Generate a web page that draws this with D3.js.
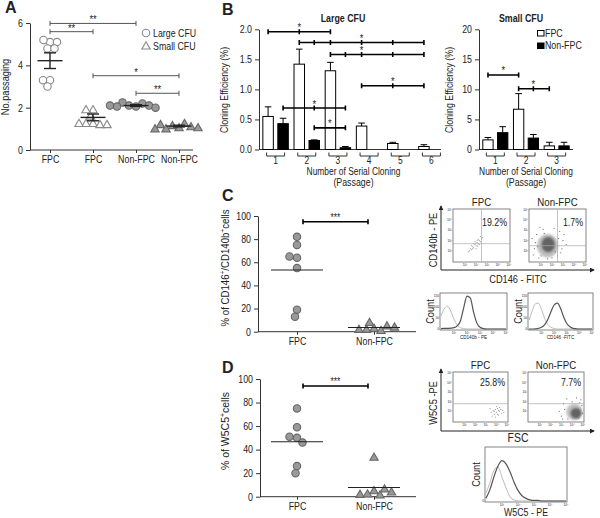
<!DOCTYPE html>
<html><head><meta charset="utf-8">
<script src="https://cdn.jsdelivr.net/npm/d3@7"></script>
<style>
body{margin:0;background:#fff}
svg{display:block}
text{font-family:"Liberation Sans",Arial,sans-serif;fill:#222}
.bold{font-weight:bold}
.axis path,.axis line{stroke:#333}
</style>
</head><body>
<svg id="c" width="600" height="518"></svg>
<script>
// ---------------- DATA ----------------
// Panel A
const aCategories = ["FPC","FPC","Non-FPC","Non-FPC"];
const aShapes = ["circle","triangle","circle","triangle"];
const aFilled = [false,false,true,true];
const aValues = [
  [5.1,5.2,5.1,4.8,4.8,3.3,3.0,3.3],
  [1.9,1.9,1.6,1.25,1.25,1.2,1.25,1.2],
  [2.05,2.1,2.2,2.25,2.1,2.05,2.0,2.1],
  [1.05,1.15,1.25,1.1,1.0,1.05,1.2,1.0]
];
const aMeans = [4.22,1.54,2.1,1.13];
const aSem = [0.37,0.16,0.04,0.04];
const aTicks = [0,2,4,6];
const aSig = [
  {from:0,to:2,y:5.98,label:"**"},
  {from:0,to:1,y:5.59,label:"**"},
  {from:1,to:3,y:3.51,label:"*"},
  {from:2,to:3,y:2.68,label:"**"}
];
const aLegend = ["Large CFU","Small CFU"];

// Panel B
const seriesNames = ["FPC","Non-FPC"];
const passagesLarge = [1,2,3,4,5,6];
const largeFPC    = [0.55,1.42,1.31,0.39,0.10,0.05];
const largeFPCerr = [0.16,0.25,0.14,0.05,0.02,0.03];
const largeNon    = [0.43,0.15,0.03,null,null,null];
const largeNonErr = [0.09,0.01,0.02,null,null,null];
const largeTicks = [0,0.5,1,1.5,2];
const largeSig = [
  {pts:[[1,"FPC"],[2,"FPC"],[3,"FPC"]], y:1.96, star:[2,"FPC"]},
  {pts:[[2,"FPC"],[2,"Non-FPC"],[3,"FPC"],[4,"FPC"],[5,"FPC"],[6,"FPC"]], y:1.78, star:[4,"FPC"]},
  {pts:[[3,"FPC"],[3,"Non-FPC"],[4,"FPC"],[5,"FPC"],[6,"FPC"]], y:1.58, star:[4,"FPC"]},
  {pts:[[4,"FPC"],[5,"FPC"],[6,"FPC"]], y:1.06, star:[5,"FPC"]},
  {pts:[[1,"Non-FPC"],[2,"Non-FPC"],[3,"Non-FPC"]], y:0.69, star:[2,"Non-FPC"]},
  {pts:[[2,"Non-FPC"],[3,"Non-FPC"]], y:0.36, star:null}
];
const passagesSmall = [1,2,3];
const smallFPC    = [1.6,6.7,0.6];
const smallFPCerr = [0.4,2.6,0.6];
const smallNon    = [2.8,1.9,0.6];
const smallNonErr = [1.0,0.6,0.6];
const smallTicks = [0,5,10,15,20];
const smallSig = [
  {pts:[[1,"FPC"],[2,"FPC"]], y:12.4, star:null},
  {pts:[[2,"FPC"],[2,"Non-FPC"],[3,"FPC"]], y:10.1, star:[2,"Non-FPC"]}
];

// Panel C / D dot plots
const groupsCD = ["FPC","Non-FPC"];
const cFPC = [82,75,64,65,55,19,13];
const cNon = [3,2,8,1,5,2,4];
const dFPC = [75,59,50,51,46,26,20];
const dNon = [5,2.3,33.5,1.5,6.5,2,4];
const cdTicks = [0,20,40,60,80,100];

// Flow cytometry
const flowTitles = ["FPC","Non-FPC"];
const flowCPct = ["19.2%","1.7%"];
const flowCGateX = [2.5,2.5];
const flowCGateY = [1.7,1.5];
const flowDPct = ["25.8%","7.7%"];
const flowDGateY = [1.8,1.8];
const flowCFpcPts = [[1.4,1.0],[1.5,1.2],[1.6,1.1],[1.7,1.4],[1.8,1.3],[1.9,1.6],[2.0,1.5],[2.1,1.8],[2.2,1.7],[2.3,2.0],[2.4,1.9],[2.5,2.2],[2.2,2.1],[1.9,1.9],[2.0,1.2],[1.6,1.5],[2.3,1.6],[2.6,2.3],[1.3,0.9],[2.1,2.0],[1.8,1.7],[2.4,2.4],[1.7,1.2],[2.0,1.75],[2.15,1.45]];
const flowCNonPts = [[0.3,0.6],[0.5,1.8],[0.6,2.6],[0.8,0.3],[2.9,1.2],[3.0,2.0],[2.7,2.9],[1.2,3.1],[0.4,1.2],[2.5,0.5],[3.3,1.6],[0.9,3.3],[2.2,3.2],[1.6,0.2],[3.1,2.6],[0.2,2.2],[2.0,0.3],[2.8,0.8],[1.0,0.5],[0.7,1.4],[2.6,2.2],[1.3,2.7],[2.3,0.9]];
const flowCNonDense = [{cx:1.6,cy:1.5,rx:0.95,ry:1.15},{cx:1.65,cy:1.6,rx:0.6,ry:0.75}];
const flowDFpcPts = [[3.5,0.9],[3.7,1.1],[3.8,0.7],[3.9,1.2],[4.0,0.9],[4.1,1.3],[4.2,0.6],[4.3,1.0],[4.4,1.2],[4.5,0.8],[3.6,0.5],[4.6,1.1],[4.0,1.5],[3.9,0.4],[4.3,1.4],[4.7,0.9],[3.4,1.3],[4.1,0.7],[4.2,1.1],[3.8,1.0]];
const flowDNonPts = [[3.0,0.5],[3.2,1.8],[3.5,2.3],[4.8,2.2],[4.9,1.6],[3.6,0.2],[4.0,2.0],[4.6,0.3],[3.3,1.2],[4.95,0.8],[2.8,1.0],[4.4,2.4],[3.1,0.2],[4.7,1.9]];
const flowDNonDense = [{cx:4.2,cy:0.95,rx:0.75,ry:0.85},{cx:4.35,cy:0.8,rx:0.5,ry:0.55}];
const decadeLabels = ["10\u2070","10\u00b9","10\u00b2","10\u00b3","10\u2074","10\u2075"];

// Histograms
const histBins = [0,0.25,0.5,0.75,1,1.25,1.5,1.75,2,2.25,2.5,2.75,3,3.25,3.5,3.75,4,4.25,4.5,4.75,5];
const cHist1Ctrl  = [60,92,105,82,45,18,6,2,0,0,0,0,0,0,0,0,0,0,0,0,0];
const cHist1Stain = [2,3,3,4,6,14,38,98,150,142,78,28,8,2,0,0,0,0,0,0,0];
const cHist2Ctrl  = [40,82,115,118,88,48,20,8,2,0,0,0,0,0,0,0,0,0,0,0,0];
const cHist2Stain = [0,0,1,3,8,20,45,80,110,118,95,55,25,10,3,1,0,0,0,0,0];
const dHistCtrl   = [15,35,58,64,45,25,8,2,0,0,0,0,0,0,0,0,0,0,0,0,0];
const dHistStain  = [5,22,46,66,76,70,55,36,20,10,5,2,1,1,0,0,0,0,0,0,0];
const cHistTicks = [0,50,100,150];
const dHistTicks = [0];

// ---------------- DRAW ----------------
const svg = d3.select("#c");
const defs = svg.append("defs");
defs.append("filter").attr("id","blur").append("feGaussianBlur").attr("stdDeviation",1.2);
defs.append("marker").attr("id","arr").attr("viewBox","0 0 6 6").attr("refX",5).attr("refY",3)
  .attr("markerWidth",5).attr("markerHeight",5).attr("orient","auto")
  .append("path").attr("d","M0,0L6,3L0,6Z").attr("fill","#222");

function label(t,x,y){svg.append("text").attr("class","bold").attr("x",x).attr("y",y).attr("font-size",16).text(t);}
label("A",5,13); label("B",222,15); label("C",222,201); label("D",222,373);

function swarm(vals, ys, gap){
  const placed=[];
  return vals.map(v=>{
    const y=ys(v);
    let off=0;
    for(let k=0;k<400;k++){
      const o=(k%2?-1:1)*Math.ceil(k/2)*0.5;
      if(placed.every(p=>(p[0]-o)**2+(p[1]-y)**2>=gap*gap)){off=o;break;}
    }
    placed.push([off,y]);
    return [off,y];
  });
}
const tri = d3.symbol().type(d3.symbolTriangle).size(30);

function drawMarker(g,shape,filled,x,y){
  const fill = filled? "#999":"#fff", stroke = filled? "#666":"#888";
  if(shape==="circle") g.append("circle").attr("cx",x).attr("cy",y).attr("r",3.7).attr("fill",fill).attr("stroke",stroke).attr("stroke-width",1.1);
  else g.append("path").attr("d",tri()).attr("transform",`translate(${x},${y+0.6})`).attr("fill",fill).attr("stroke",stroke).attr("stroke-width",1.1);
}

// ---- Panel A ----
(function(){
  const x = d3.scalePoint().domain(d3.range(aCategories.length)).range([50,179]);
  const y = d3.scaleLinear().domain([0,6]).range([150,23]);
  const g = svg.append("g");
  g.append("g").attr("class","axis").attr("transform","translate(30,0)")
    .call(d3.axisLeft(y).tickValues(aTicks).tickFormat(d3.format("d")).tickSize(4).tickSizeOuter(0))
    .call(s=>s.selectAll("text").attr("font-size",10.5));
  const xa = g.append("g").attr("class","axis").attr("transform","translate(0,150)")
    .call(d3.axisBottom(x).tickFormat(i=>aCategories[i]).tickSize(3));
  xa.select(".domain").remove();
  xa.selectAll("text").attr("font-size",10.5);
  g.append("line").attr("x1",30).attr("x2",193).attr("y1",150).attr("y2",150).attr("stroke","#333");
  g.append("text").attr("transform","translate(9,87) rotate(-90)").attr("text-anchor","middle").attr("font-size",11).text("No.passaging");
  aValues.forEach((vals,i)=>{
    const pos = swarm(vals,y,6.8);
    pos.forEach(p=>drawMarker(g,aShapes[i],aFilled[i],x(i)+p[0],p[1]));
    const cx=x(i), m=y(aMeans[i]), lo=y(aMeans[i]-aSem[i]), hi=y(aMeans[i]+aSem[i]);
    g.append("line").attr("x1",cx-12.5).attr("x2",cx+12.5).attr("y1",m).attr("y2",m).attr("stroke","#222").attr("stroke-width",1.4);
    g.append("line").attr("x1",cx).attr("x2",cx).attr("y1",lo).attr("y2",hi).attr("stroke","#222").attr("stroke-width",1.4);
    [lo,hi].forEach(yy=>g.append("line").attr("x1",cx-6).attr("x2",cx+6).attr("y1",yy).attr("y2",yy).attr("stroke","#222").attr("stroke-width",1.4));
  });
  aSig.forEach(s=>{
    const x1=x(s.from), x2=x(s.to), yy=y(s.y);
    g.append("path").attr("d",`M${x1},${yy-2.5}V${yy+2.5}M${x1},${yy}H${x2}M${x2},${yy-2.5}V${yy+2.5}`).attr("stroke","#555").attr("fill","none");
    g.append("text").attr("x",(x1+x2)/2).attr("y",yy).attr("text-anchor","middle").attr("font-size",11).attr("fill","#555").text(s.label);
  });
  [0,1].forEach(i=>{
    drawMarker(g,aShapes[i],false,146,33+i*13);
    g.append("text").attr("x",153).attr("y",37+i*13).attr("font-size",10.5).text(aLegend[i]);
  });
})();

// ---- Panel B ----
function barPanel(opts){
  const {passages,fpc,fpcErr,non,nonErr,ticks,xr,ymax,sig,title,titleX,fmt,axisEnd,ytitleOff} = opts;
  const g = svg.append("g");
  const x0 = d3.scaleBand().domain(passages).range(xr);
  const x1 = d3.scaleBand().domain(seriesNames).range([0,x0.bandwidth()]).paddingInner(0.3).paddingOuter(0.19);
  const y = d3.scaleLinear().domain([0,ymax]).range([149.5,29.3]);
  const xc = (p,s)=>x0(p)+x1(s)+x1.bandwidth()/2;
  g.append("g").attr("class","axis").attr("transform",`translate(${xr[0]-1},0)`)
    .call(d3.axisLeft(y).tickValues(ticks).tickFormat(fmt).tickSize(4).tickSizeOuter(0))
    .call(s=>s.selectAll("text").attr("font-size",10.5));
  g.append("line").attr("x1",xr[0]-1).attr("x2",axisEnd).attr("y1",149.5).attr("y2",149.5).attr("stroke","#333");
  const series = [[fpc,fpcErr,"FPC","#fff"],[non,nonErr,"Non-FPC","#000"]];
  series.forEach(([vals,errs,name,fill])=>{
    passages.forEach((p,i)=>{
      if(vals[i]==null) return;
      const bx = x0(p)+x1(name), bw=x1.bandwidth();
      const top=y(vals[i]), et=y(vals[i]+errs[i]), cx=bx+bw/2;
      g.append("line").attr("x1",cx).attr("x2",cx).attr("y1",top).attr("y2",et).attr("stroke","#000");
      g.append("line").attr("x1",cx-3.3).attr("x2",cx+3.3).attr("y1",et).attr("y2",et).attr("stroke","#000");
      g.append("rect").attr("x",bx).attr("y",top).attr("width",bw).attr("height",Math.max(0.5,149.5-top))
        .attr("fill",fill).attr("stroke","#000").attr("stroke-width",1);
    });
  });
  passages.forEach(p=>{
    const c=x0(p)+x0.bandwidth()/2;
    g.append("path").attr("d",`M${c-9},152.5V156H${c+9}V152.5`).attr("fill","none").attr("stroke","#333");
    g.append("text").attr("x",c).attr("y",164).attr("text-anchor","middle").attr("font-size",10).text(p);
  });
  const mid=(xr[0]+xr[1])/2;
  g.append("text").attr("x",mid).attr("y",174.5).attr("text-anchor","middle").attr("font-size",10).text("Number of Serial  Cloning");
  g.append("text").attr("x",mid).attr("y",186).attr("text-anchor","middle").attr("font-size",10.5).text("(Passage)");
  g.append("text").attr("transform",`translate(${xr[0]-ytitleOff},90) rotate(-90)`).attr("text-anchor","middle").attr("font-size",10.5).text("Cloning Efficiency  (%)");
  g.append("text").attr("x",titleX).attr("y",22).attr("text-anchor","middle").attr("font-size",10.5).attr("font-weight","bold").text(title);
  sig.forEach(s=>{
    const xs = s.pts.map(([p,n])=>xc(p,n)); const yy=y(s.y);
    let d=`M${xs[0]},${yy}H${xs[xs.length-1]}`;
    xs.forEach(xx=>d+=`M${xx},${yy-2.5}V${yy+2.5}`);
    g.append("path").attr("d",d).attr("stroke","#000").attr("stroke-width",1.6).attr("fill","none");
    const sx = s.star? xc(s.star[0],s.star[1]) : (xs[0]+xs[xs.length-1])/2;
    g.append("text").attr("x",sx).attr("y",yy-0.5).attr("text-anchor","middle").attr("font-size",11).attr("fill","#444").text("*");
  });
  return g;
}
barPanel({passages:passagesLarge,fpc:largeFPC,fpcErr:largeFPCerr,non:largeNon,nonErr:largeNonErr,ticks:largeTicks,
  xr:[260,447],ymax:2,sig:largeSig,title:"Large CFU",titleX:343,fmt:d3.format(".1f"),axisEnd:441,ytitleOff:32});
const gs = barPanel({passages:passagesSmall,fpc:smallFPC,fpcErr:smallFPCerr,non:smallNon,nonErr:smallNonErr,ticks:smallTicks,
  xr:[480,572],ymax:20,sig:smallSig,title:"Small CFU",titleX:521,fmt:d3.format("d"),axisEnd:573,ytitleOff:27});
seriesNames.forEach((n,i)=>{
  gs.append("rect").attr("x",537.5).attr("y",30.5+i*12.5).attr("width",6.5).attr("height",5.5).attr("fill",i?"#000":"#fff").attr("stroke","#000");
  gs.append("text").attr("x",545).attr("y",36.5+i*12.5).attr("font-size",10.5).text(n);
});

// ---- Panels C & D dot plots ----
function dotPanel(opts){
  const {fpc,non,y0,y100,axisX,titleParts,titleY,titleLen,sigY} = opts;
  const g = svg.append("g");
  const x = d3.scalePoint().domain(groupsCD).range([297,374]);
  const y = d3.scaleLinear().domain([0,100]).range([y0,y100]);
  g.append("g").attr("class","axis").attr("transform",`translate(${axisX},0)`)
    .call(d3.axisLeft(y).tickValues(cdTicks).tickSize(4).tickSizeOuter(0))
    .call(s=>s.selectAll("text").attr("font-size",10.5));
  const xa=g.append("g").attr("class","axis").attr("transform",`translate(0,${y0})`).call(d3.axisBottom(x).tickSize(3));
  xa.select(".domain").remove(); xa.selectAll("text").attr("font-size",10.5);
  g.append("line").attr("x1",axisX).attr("x2",416).attr("y1",y0).attr("y2",y0).attr("stroke","#333");
  [[fpc,"FPC","circle"],[non,"Non-FPC","triangle"]].forEach(([vals,n,shape])=>{
    swarm(vals,y,7.2).forEach(p=>drawMarker(g,shape,true,x(n)+p[0],p[1]));
    const m=y(d3.mean(vals));
    g.append("line").attr("x1",x(n)-26).attr("x2",x(n)+26).attr("y1",m).attr("y2",m).attr("stroke","#222").attr("stroke-width",1.1);
  });
  const t=g.append("text").attr("class","keep").attr("transform",`translate(229,${titleY}) rotate(-90)`).attr("text-anchor","middle")
    .attr("font-size",10.5).attr("textLength",titleLen).attr("lengthAdjust","spacingAndGlyphs");
  let raised=false;
  titleParts.forEach(([s,sup])=>{
    const ts=t.append("tspan").text(s);
    if(sup){ ts.attr("font-size",7).attr("dy",raised?0:-4); raised=true; }
    else { if(raised) ts.attr("dy",4); raised=false; }
  });
  const sy=y(sigY), xa1=x("FPC")+6, xa2=x("Non-FPC")-6;
  g.append("path").attr("d",`M${xa1},${sy-2.5}V${sy+2.5}M${xa1},${sy}H${xa2}M${xa2},${sy-2.5}V${sy+2.5}`).attr("stroke","#000").attr("stroke-width",1.6).attr("fill","none");
  g.append("text").attr("x",(xa1+xa2)/2).attr("y",sy-1).attr("text-anchor","middle").attr("font-size",10).attr("fill","#444").text("***");
}
dotPanel({fpc:cFPC,non:cNon,y0:331.7,y100:216,axisX:258,titleY:268,titleLen:117,sigY:95,
  titleParts:[["% of CD146",0],["+",1],["/CD140b",0],["+",1],["cells",0]]});
dotPanel({fpc:dFPC,non:dNon,y0:496.7,y100:379,axisX:260,titleY:431,titleLen:78,sigY:94,
  titleParts:[["% of W5C5",0],["+",1],["cells",0]]});

// ---- Flow scatter plots ----
function scatterBox(x0,x1,y0,y1,pts,dense,gx,gy,pct,title,titleY,pctY){
  const g=svg.append("g");
  const fx=d3.scaleLinear().domain([0,5]).range([x0+1,x1-1]);
  const fy=d3.scaleLinear().domain([0,5]).range([y1-1,y0+1]);
  g.append("rect").attr("x",x0).attr("y",y0).attr("width",x1-x0).attr("height",y1-y0).attr("fill","#fff").attr("stroke","#666").attr("stroke-width",0.8);
  (dense||[]).forEach((e,i)=>g.append("ellipse").attr("cx",fx(e.cx)).attr("cy",fy(e.cy))
    .attr("rx",fx(e.rx)-fx(0)).attr("ry",fy(0)-fy(e.ry)).attr("fill",i?"#444":"#888").attr("opacity",i?0.75:0.55).attr("filter","url(#blur)"));
  pts.forEach(p=>g.append("rect").attr("x",fx(p[0])-0.5).attr("y",fy(p[1])-0.5).attr("width",1).attr("height",1).attr("fill",dense?"#666":"#999"));
  if(gx!=null) g.append("line").attr("x1",fx(gx)).attr("x2",fx(gx)).attr("y1",y0).attr("y2",y1).attr("stroke","#aaa").attr("stroke-width",0.7);
  g.append("line").attr("x1",x0).attr("x2",x1).attr("y1",fy(gy)).attr("y2",fy(gy)).attr("stroke","#aaa").attr("stroke-width",0.7);
  [1,2,3,4,5].forEach(k=>{
    g.append("text").attr("x",fx(k)).attr("y",y1+4).attr("text-anchor","middle").attr("font-size",3.2).attr("fill","#888").text(decadeLabels[k]);
    g.append("text").attr("x",x0-1).attr("y",fy(k)+1).attr("text-anchor","end").attr("font-size",3.2).attr("fill","#888").text(decadeLabels[k]);
  });
  g.append("text").attr("x",x1-3).attr("y",pctY).attr("text-anchor","end").attr("font-size",10.5).text(pct);
  g.append("text").attr("x",(x0+x1)/2).attr("y",titleY).attr("text-anchor","middle").attr("font-size",11.5).text(title);
}
scatterBox(453,510,209,262,flowCFpcPts,null,flowCGateX[0],flowCGateY[0],flowCPct[0],flowTitles[0],206,226);
scatterBox(529,586,209,262,flowCNonPts,flowCNonDense,flowCGateX[1],flowCGateY[1],flowCPct[1],flowTitles[1],206,226);
scatterBox(453,508,372,422,flowDFpcPts,null,null,flowDGateY[0],flowDPct[0],flowTitles[0],369,386);
scatterBox(528,584,372,422,flowDNonPts,flowDNonDense,null,flowDGateY[1],flowDPct[1],flowTitles[1],369,386);
function arrows(yb,ytop){
  svg.append("line").attr("x1",441).attr("x2",441).attr("y1",yb).attr("y2",ytop).attr("stroke","#222").attr("marker-end","url(#arr)");
  svg.append("line").attr("x1",441).attr("x2",594).attr("y1",yb).attr("y2",yb).attr("stroke","#222").attr("marker-end","url(#arr)");
}
arrows(270,206); arrows(431,369);
svg.append("text").attr("transform","translate(437,240) rotate(-90)").attr("text-anchor","middle").attr("font-size",11).text("CD140b - PE");
svg.append("text").attr("x",518).attr("y",283).attr("text-anchor","middle").attr("font-size",11).text("CD146 - FITC");
svg.append("text").attr("transform","translate(437,403) rotate(-90)").attr("text-anchor","middle").attr("font-size",11).text("W5C5 -PE");
svg.append("text").attr("x",518).attr("y",442).attr("text-anchor","middle").attr("font-size",12.5).text("FSC");

// ---- Histograms ----
function histBox(x0,x1,y0,y1,ymax,ctrl,stain,xlabel,xlabelY,xlabelSize,countX,yticks){
  const g=svg.append("g");
  const hx=d3.scaleLinear().domain([0,5]).range([x0+1,x1-1]);
  const hy=d3.scaleLinear().domain([0,ymax]).range([y1-1,y0+1]);
  g.append("rect").attr("x",x0).attr("y",y0).attr("width",x1-x0).attr("height",y1-y0).attr("fill","#fff").attr("stroke","#666").attr("stroke-width",0.8);
  const line=d3.line().x((d,i)=>hx(histBins[i])).y(d=>hy(d)).curve(d3.curveMonotoneX);
  g.append("path").attr("d",line(ctrl)).attr("fill","none").attr("stroke","#bbb").attr("stroke-width",1);
  g.append("path").attr("d",line(stain)).attr("fill","none").attr("stroke","#555").attr("stroke-width",1.2);
  [1,2,3,4,5].forEach(k=>g.append("text").attr("x",hx(k)).attr("y",y1+4).attr("text-anchor","middle").attr("font-size",3.2).attr("fill","#888").text(decadeLabels[k]));
  yticks.forEach(t=>g.append("text").attr("x",x0-1).attr("y",hy(t)+1).attr("text-anchor","end").attr("font-size",3.2).attr("fill","#888").text(t));
  g.append("text").attr("x",(x0+x1)/2).attr("y",xlabelY).attr("text-anchor","middle").attr("font-size",xlabelSize).text(xlabel);
  g.append("text").attr("transform",`translate(${countX},${(y0+y1)/2}) rotate(-90)`).attr("text-anchor","middle").attr("font-size",11).text("Count");
}
histBox(440,507,293,330,160,cHist1Ctrl,cHist1Stain,"CD140b - PE",339,5.5,434,cHistTicks);
histBox(528,593,293,330,160,cHist2Ctrl,cHist2Stain,"CD146 -FITC",339,5.5,522,cHistTicks);
histBox(485,567,447,502,100,dHistCtrl,dHistStain,"W5C5 - PE",516,10.5,480,dHistTicks);

// condensed look (reference uses a narrow sans face)
svg.selectAll("text").each(function(){
  if(this.classList.contains("bold")||this.classList.contains("keep")) return;
  const fs=+this.getAttribute("font-size")||10;
  if(fs<5) return;
  const L=this.getComputedTextLength();
  if(L>0) d3.select(this).attr("textLength",L*0.84).attr("lengthAdjust","spacingAndGlyphs");
});
</script>
</body></html>
